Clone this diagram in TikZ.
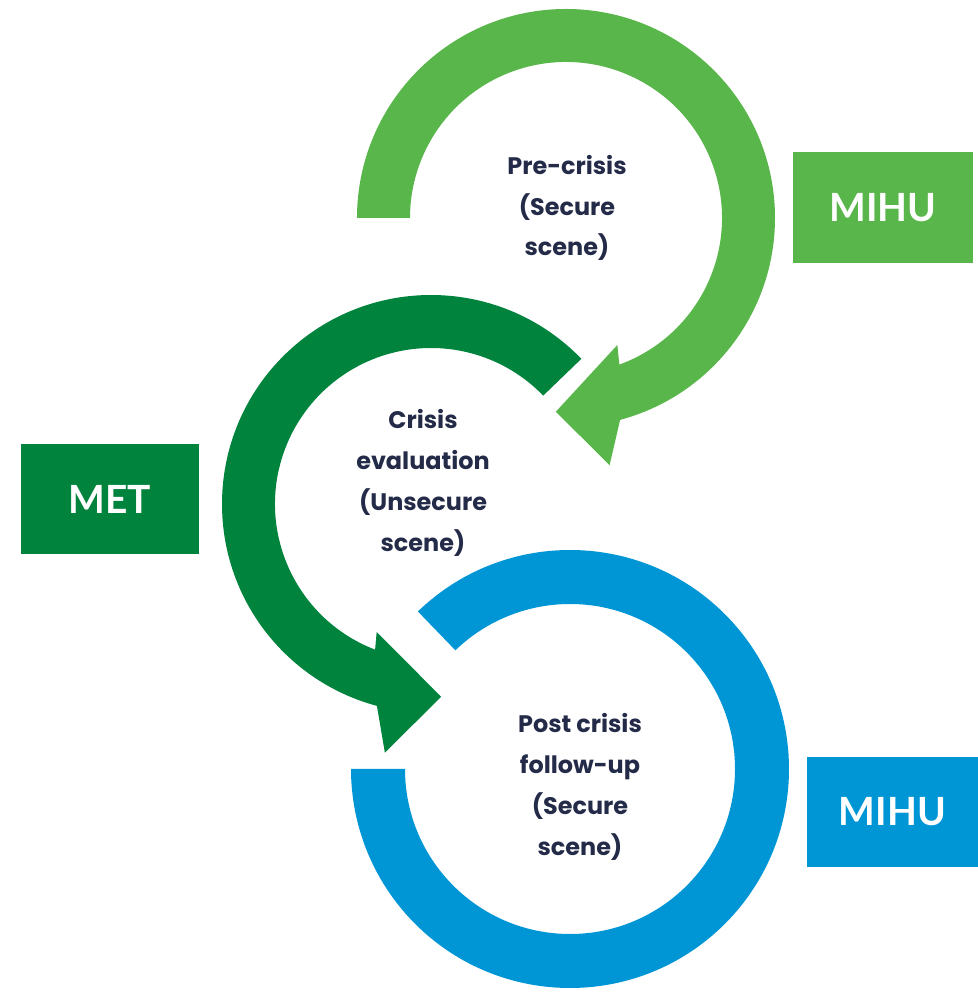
\documentclass[tikz,border=0pt]{standalone}
\usepackage{fontspec}
\setmainfont{Lato}
\newfontfamily\phasefont{Poppins}
\usetikzlibrary{calc}

\definecolor{pregreen}{HTML}{59B64A}
\definecolor{metgreen}{HTML}{00833C}
\definecolor{postblue}{HTML}{0096D6}
\definecolor{navy}{HTML}{232B48}

\begin{document}
\begin{tikzpicture}[x=1bp,y=1bp,
    phase/.style={align=center, text=navy, font=\phasefont\fontsize{24}{41}\selectfont\bfseries},
    team/.style={minimum width=#1, minimum height=111, inner sep=0pt, text=white,
        font=\fontsize{39}{39}\selectfont\bfseries}]
    % Define ring dimensions
    \def\outR{209} % outer radius
    \def\inR{156} % inner radius
    \def\postout{219} % blue ring, outer
    \def\postin{165} % blue ring, inner

    \useasboundingbox (0,0) rectangle (978,994);

    % Ring centres
    \coordinate (pre) at (566,776);
    \coordinate (eval) at (431,490);
    \coordinate (post) at (570,225);

    % Pre-crisis arrow (clockwise)
    \fill[pregreen] ($(pre)+(180:\outR)$) arc[start angle=180, end angle=-75, radius=\outR]
        -- ($(pre)+(-80:251)$) -- ($(pre)+(-93:194)$) -- ($(pre)+(-68:137)$)
        -- ($(pre)+(-70:\inR)$) arc[start angle=-70, end angle=180, radius=\inR] -- cycle;

    % Crisis evaluation arrow (counter-clockwise)
    \fill[metgreen] ($(eval)+(44:\outR)$) arc[start angle=44, end angle=255, radius=\outR]
        -- ($(eval)+(259.5:253)$) -- ($(eval)+(273:193)$) -- ($(eval)+(247:139)$)
        -- ($(eval)+(249:\inR)$) arc[start angle=249, end angle=44, radius=\inR] -- cycle;

    % Post crisis ring
    \fill[postblue] ($(post)+(134:\postout)$) arc[start angle=134, end angle=-180, radius=\postout]
        -- ($(post)+(180:\postin)$) arc[start angle=-180, end angle=134, radius=\postin] -- cycle;

    % Phase labels
    \node[phase] (prelabel) at (567,786) {Pre-crisis\\(Secure\\scene)};
    \node[phase] (evallabel) at (423,511) {Crisis\\evaluation\\(Unsecure\\scene)};
    \node[phase] (postlabel) at (580,207) {Post crisis\\follow-up\\(Secure\\scene)};

    % Team boxes
    \node[team=180, fill=pregreen] (mihutop) at (883,786.5) {MIHU};
    \node[team=178, fill=metgreen] (met) at (110,495) {MET};
    \node[team=171, fill=postblue] (mihubottom) at (892.5,182) {MIHU};
\end{tikzpicture}
\end{document}
